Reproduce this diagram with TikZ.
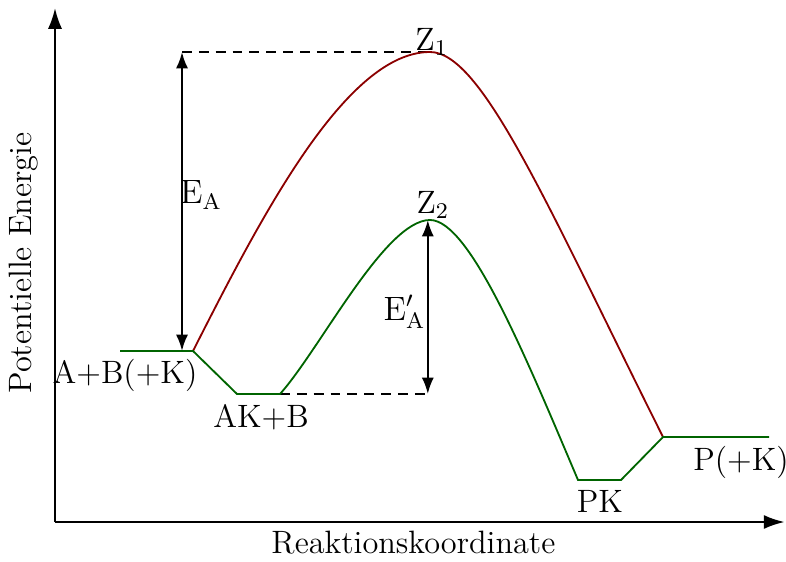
\documentclass[tikz,border=0pt]{standalone}
\usepackage{tikz}
\usetikzlibrary{arrows.meta, calc, positioning}
\definecolor{unkatrot}{HTML}{8B0000}
\definecolor{katgruen}{HTML}{006400}

\tikzset{
  achse/.style={line width=0.8pt, -{Latex[length=7.4pt, width=5pt]}},
  energiepfeil/.style={line width=0.8pt, {Latex[length=5.8pt, width=4.3pt]}-{Latex[length=5.8pt, width=4.3pt]}},
  hilfslinie/.style={line width=0.7pt, dash pattern=on 3.5pt off 2.5pt},
  unkat/.style={unkatrot, line width=0.65pt},
  kat/.style={katgruen, line width=0.65pt},
  beschriftung/.style={inner sep=0pt}
}

\begin{document}
\begin{tikzpicture}[font=\fontsize{11.5}{14}\selectfont]
  \useasboundingbox (-0.6875,-0.4875) rectangle (9.1375,6.525);
  % Niveaus
  \coordinate (O) at (0,0);
  \coordinate (ytop) at (0,6.425);
  \coordinate (xend) at (9.12,0);
  \coordinate (edukt0) at (0.8125,2.1375);
  \coordinate (edukt) at (1.725,2.1375);
  \coordinate (ak0) at (2.275,1.6);
  \coordinate (ak1) at (2.8125,1.6);
  \coordinate (z1) at (4.6875,5.875);
  \coordinate (z2) at (4.6875,3.775);
  \coordinate (pk0) at (6.5375,0.525);
  \coordinate (pk1) at (7.075,0.525);
  \coordinate (produkt) at (7.6,1.0625);
  \coordinate (produkt1) at (8.925,1.0625);
  \coordinate (ea0) at (1.5875,2.1375);
  \coordinate (ea1) at (ea0 |- z1);
  \coordinate (eb1) at (4.66,3.775);
  \coordinate (eb0) at (eb1 |- ak1);

  % Achsen
  \draw[achse] (O) -- (ytop);
  \draw[achse] (O) -- (xend);
  \node[beschriftung, rotate=90] (ylabel) at (-0.3875,3.2375) {Potentielle Energie};
  \node[beschriftung] (xlabel) at (4.48,-0.2625) {Reaktionskoordinate};

  % Hilfslinien
  \draw[hilfslinie] (ea1) -- (z1);
  \draw[hilfslinie] (ak1) -- (eb0);

  % Reaktion ohne Katalysator
  \draw[unkat] (edukt) .. controls +(0.85,1.675) and +(-1.05,0) .. (z1)
    .. controls +(0.65,0) and +(-1.45,2.9) .. (produkt);

  % Reaktion mit Katalysator
  \draw[kat] (edukt0) -- (edukt) -- (ak0) -- (ak1)
    .. controls +(0.5,0.5575) and +(-0.5625,0) .. (z2)
    .. controls +(0.5,0) and +(-0.6375,1.5) .. (pk0)
    -- (pk1) -- (produkt) -- (produkt1);

  % Aktivierungsenergien
  \draw[energiepfeil] (ea0) -- (ea1);
  \draw[energiepfeil] (eb0) -- (eb1);
  \node[beschriftung] (lea) at (1.825,4.0875) {$\mathrm{E_A}$};
  \node[beschriftung] (leb) at (4.36875,2.625) {$\mathrm{E'_A}$};

  % Beschriftungen
  \node[beschriftung] (lz1) at (4.71,6.0) {Z$_1$};
  \node[beschriftung] (lz2) at (4.725,3.9625) {Z$_2$};
  \node[beschriftung] (ledukt) at (0.875,1.8375) {A+B(+K)};
  \node[beschriftung] (lak) at (2.575,1.3125) {AK+B};
  \node[beschriftung] (lpk) at (6.8125,0.2625) {PK};
  \node[beschriftung] (lprodukt) at (8.575,0.75) {P(+K)};
\end{tikzpicture}
\end{document}
